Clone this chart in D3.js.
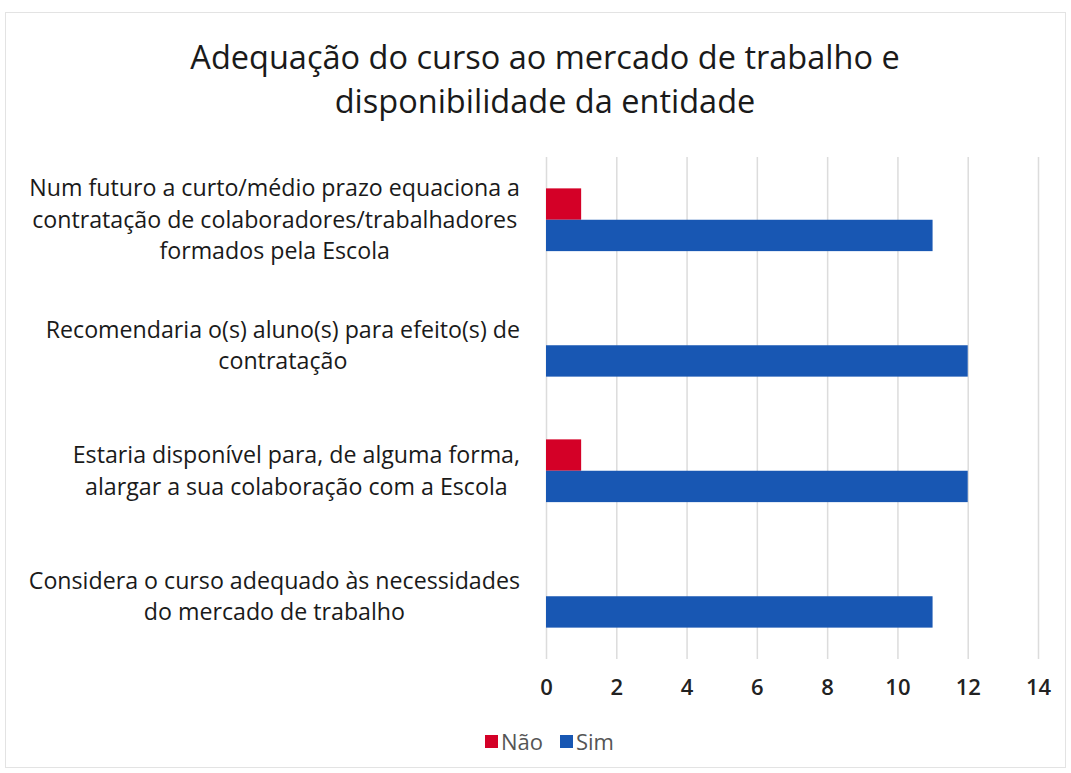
<!DOCTYPE html>
<html>
<head>
<meta charset="utf-8">
<script src="https://cdn.jsdelivr.net/npm/d3@7"></script>
<style>
  body { margin: 0; background: #fff; }
  #chart { width: 1071px; height: 773px; }
  text { font-family: "Open Sans", Lato, sans-serif; }
</style>
</head>
<body>
<div id="chart"></div>
<script>
// data
const categories = [
    "Num futuro a curto/médio prazo equaciona a contratação de colaboradores/trabalhadores formados pela Escola",
    "Recomendaria o(s) aluno(s) para efeito(s) de contratação",
    "Estaria disponível para, de alguma forma, alargar a sua colaboração com a Escola",
    "Considera o curso adequado às necessidades do mercado de trabalho"
];
const labelLines = [
    ["Num futuro a curto/médio prazo equaciona a", "contratação de colaboradores/trabalhadores", "formados pela Escola"],
    ["Recomendaria o(s) aluno(s) para efeito(s) de", "contratação"],
    ["Estaria disponível para, de alguma forma,", "alargar a sua colaboração com a Escola"],
    ["Considera o curso adequado às necessidades", "do mercado de trabalho"]
];
const titleLines = ["Adequação do curso ao mercado de trabalho e", "disponibilidade da entidade"];
const seriesNames = ["Não", "Sim"];
const naoValues = [1, 0, 1, 0];
const simValues = [11, 12, 12, 11];
const xTicks = [0, 2, 4, 6, 8, 10, 12, 14];
const colors = {"Não": "#d40027", "Sim": "#1857b3"};

const width = 1071, height = 773;
const margin = {top: 157, right: 33, bottom: 114, left: 546};
const plotW = width - margin.left - margin.right;
const plotH = height - margin.top - margin.bottom;

const svg = d3.select("#chart").append("svg")
    .attr("width", width)
    .attr("height", height);

// outer frame
svg.append("rect")
    .attr("x", 5.5).attr("y", 12.5)
    .attr("width", width - 11).attr("height", height - 18)
    .attr("fill", "#fff")
    .attr("stroke", "#e3e3e3");

// title, one text per line
svg.append("g")
    .selectAll("text")
    .data(titleLines)
    .join("text")
    .attr("x", 545)
    .attr("y", (d, i) => 69 + i * 44)
    .attr("text-anchor", "middle")
    .attr("font-size", 32.5)
    .attr("fill", "#1a1a1a")
    .text(d => d);

const plot = svg.append("g")
    .attr("transform", `translate(${margin.left},${margin.top})`);

const xScale = d3.scaleLinear()
    .domain([0, 14])
    .range([0, 492]);

const yScale = d3.scaleBand()
    .domain(categories)
    .range([0, plotH])
    .paddingInner(0.5)
    .paddingOuter(0.25);

const ySub = d3.scaleBand()
    .domain(seriesNames)
    .range([0, yScale.bandwidth()]);

// gridlines
const xAxis = d3.axisBottom(xScale)
    .tickValues(xTicks)
    .tickSize(-plotH)
    .tickPadding(20);

plot.append("g")
    .classed("axis x-axis", true)
    .attr("transform", `translate(0,${plotH})`)
    .call(xAxis)
    .call(g => g.select(".domain").remove())
    .call(g => g.selectAll(".tick line").attr("stroke", "#dcdcdc").attr("stroke-width", 1.5))
    .call(g => g.selectAll(".tick text")
        .attr("font-family", "'Open Sans', sans-serif")
        .attr("font-size", 22)
        .attr("font-weight", 600)
        .attr("fill", "#222"));

// bars
const rows = categories.map((c, i) => ({cat: c, values: [
    {key: "Não", value: naoValues[i]},
    {key: "Sim", value: simValues[i]}
]}));

const groups = plot.selectAll(".cat")
    .data(rows)
    .join("g")
    .attr("class", "cat")
    .attr("transform", d => `translate(0,${yScale(d.cat)})`);

groups.selectAll("rect")
    .data(d => d.values)
    .join("rect")
    .attr("x", xScale(0))
    .attr("y", d => ySub(d.key))
    .attr("height", ySub.bandwidth())
    .attr("width", d => xScale(d.value) - xScale(0))
    .attr("fill", d => colors[d.key]);

// category labels: block right-aligned, lines centred in the block
const lineH = 31.5;
const labelRight = 520;
const labels = svg.append("g")
    .selectAll("text")
    .data(categories)
    .join("text")
    .attr("text-anchor", "middle")
    .attr("font-size", 23.2)
    .attr("fill", "#1a1a1a");

labels.selectAll("tspan")
    .data((d, i) => labelLines[i])
    .join("tspan")
    .attr("dy", (d, i) => i ? lineH : 0)
    .text(d => d);

labels.each(function(d, i) {
    const t = d3.select(this);
    const maxW = d3.max(t.selectAll("tspan").nodes(), n => n.getComputedTextLength());
    const cx = labelRight - maxW / 2;
    const cy = margin.top + yScale(d) + yScale.bandwidth() / 2;
    const n = labelLines[i].length;
    t.attr("transform", `translate(${cx},${cy - (n - 1) * lineH / 2 + 8})`);
    t.selectAll("tspan").attr("x", 0);
});

// legend
const legend = svg.append("g")
    .attr("transform", "translate(485,742)");

const legendX = [0, 75];
const items = legend.selectAll("g")
    .data(seriesNames)
    .join("g")
    .attr("transform", (d, i) => `translate(${legendX[i]},0)`);

items.append("rect")
    .attr("x", 0).attr("y", -7)
    .attr("width", 13).attr("height", 13)
    .attr("fill", d => colors[d]);

items.append("text")
    .attr("x", 16).attr("y", 8)
    .attr("font-size", 22)
    .attr("fill", "#555")
    .text(d => d);
</script>
</body>
</html>
